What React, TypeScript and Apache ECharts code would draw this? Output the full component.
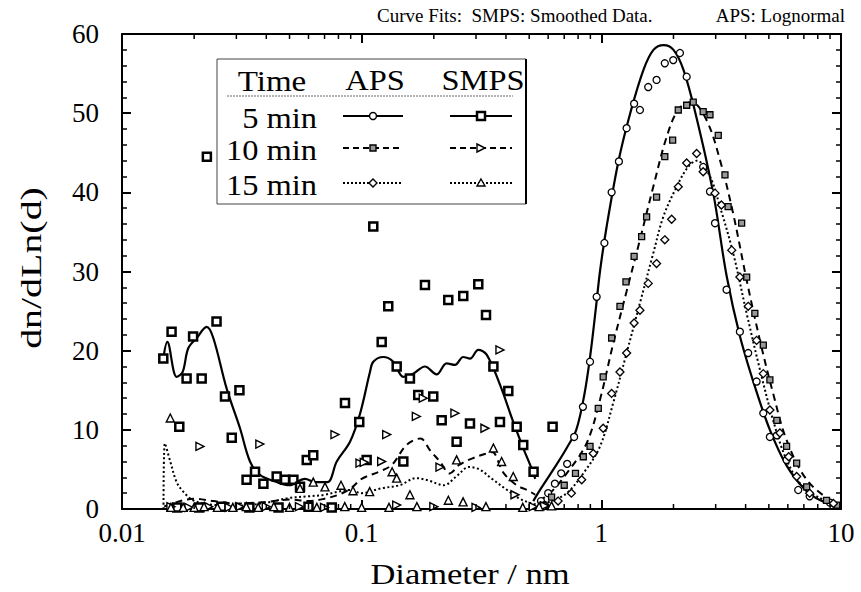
import React, { useEffect, useRef } from "react";
import * as echarts from "echarts";

// ---- axis ticks ----
const X_MAJOR_TICKS = [0.01, 0.1, 1, 10];
const X_MINOR_TICKS = [
  0.02, 0.03, 0.04, 0.05, 0.06, 0.07, 0.08, 0.09,
  0.2, 0.3, 0.4, 0.5, 0.6, 0.7, 0.8, 0.9,
  2, 3, 4, 5, 6, 7, 8, 9,
];
const Y_TICKS = [0, 10, 20, 30, 40, 50, 60];

// ---- APS lognormal fits [diameter, dn/dLn(d)] ----
const aps5Fit = [
  [0.52, 1.0], [0.56, 2.6], [0.65, 5.6], [0.72, 7.8], [0.786, 10.0], [0.85, 14.5],
  [0.9, 19.5], [0.95, 25.5], [0.987, 30.0], [1.05, 35.5], [1.18, 44.0], [1.32, 50.0],
  [1.5, 55.5], [1.65, 58.0], [1.82, 58.6], [2.0, 58.0], [2.2, 55.5], [2.47, 50.0],
  [2.93, 39.9], [3.33, 29.5], [3.79, 21.8], [4.4, 15.2], [5.05, 10.0], [5.9, 5.6],
  [7.0, 2.6], [8.2, 1.1], [10, 0.3],
];
const aps10Fit = [
  [0.55, 1.0], [0.62, 2.2], [0.717, 4.5], [0.868, 8.3], [0.987, 13.8], [1.121, 20.9],
  [1.275, 27.5], [1.449, 34.0], [1.647, 40.7], [1.873, 47.0], [2.1, 50.5], [2.38, 51.4],
  [2.75, 49.1], [3.125, 44.1], [3.55, 37.3], [4.04, 28.9], [4.59, 21.3], [5.21, 14.6],
  [5.93, 8.7], [7.19, 3.7], [9.3, 0.8], [10, 0.5],
];
const aps15Fit = [
  [0.55, 0.5], [0.62, 1.0], [0.717, 2.0], [0.841, 4.5], [0.987, 7.9], [1.121, 13.4],
  [1.275, 19.7], [1.449, 26.0], [1.647, 32.3], [1.813, 36.9], [2.062, 40.7], [2.3, 43.2],
  [2.5, 44.0], [2.84, 42.0], [3.125, 38.2], [3.55, 32.3], [4.04, 24.7], [4.59, 17.6],
  [5.21, 11.2], [5.93, 6.2], [6.96, 2.8], [9.1, 0.7], [10, 0.4],
];

// ---- SMPS smoothed curves ----
const smps5Fit = [
  [0.01487, 19.0], [0.01545, 21.1], [0.0169, 16.7], [0.0179, 17.3], [0.0189, 20.3],
  [0.0205, 21.6], [0.02256, 23.0], [0.02404, 21.6], [0.02734, 15.2], [0.03107, 10.2],
  [0.0342, 6.0], [0.0376, 4.3], [0.0442, 3.4], [0.05, 3.0], [0.058, 3.8], [0.064, 3.4],
  [0.072, 3.4], [0.0787, 6.0], [0.0894, 8.5], [0.0984, 12.0], [0.1083, 17.3],
  [0.1118, 18.6], [0.1231, 19.2], [0.1355, 18.6], [0.1492, 16.7], [0.1642, 17.1],
  [0.1837, 18.0], [0.2055, 17.0], [0.2262, 18.4], [0.245, 18.2], [0.2654, 19.2],
  [0.2831, 19.0], [0.3066, 20.1], [0.3323, 19.5], [0.3776, 15.7], [0.429, 11.0],
  [0.4722, 7.7], [0.5119, 5.1], [0.53, 3.8],
];
const smps10Fit = [
  [0.015, 0.3], [0.017, 0.9], [0.02, 1.3], [0.024, 1.0], [0.03, 0.7], [0.04, 0.9],
  [0.05, 1.2], [0.06, 1.0], [0.07, 1.3], [0.08, 1.8], [0.09, 2.6], [0.1, 3.8],
  [0.12, 4.8], [0.134, 5.6], [0.154, 8.1], [0.176, 8.9], [0.193, 7.4], [0.212, 6.0],
  [0.233, 4.5], [0.256, 5.6], [0.29, 6.4], [0.33, 7.0], [0.35, 7.2], [0.39, 4.6],
  [0.443, 3.0], [0.49, 2.4], [0.53, 1.8],
];
const smps15Fit = [
  [0.0149, 0], [0.0151, 8.3], [0.0159, 6.0], [0.0169, 3.4], [0.018, 2.2], [0.0198, 1.1],
  [0.023, 0.6], [0.03, 0.4], [0.04, 0.8], [0.05, 1.4], [0.06, 1.6], [0.07, 1.8],
  [0.08, 2.2], [0.09, 2.4], [0.1, 2.0], [0.12, 2.6], [0.144, 3.0], [0.169, 3.9],
  [0.19, 3.6], [0.22, 3.0], [0.25, 4.2], [0.28, 5.3], [0.31, 5.0], [0.35, 3.8],
  [0.4, 2.5], [0.45, 1.4], [0.5, 0.8], [0.55, 0.5],
];

// ---- APS measurements ----
const aps5Points = [
  [2.128, 57.6], [1.995, 56.7], [1.84, 56.3], [1.7, 54.2], [1.569, 53.3], [1.449, 50.4],
  [1.37, 51.2], [1.275, 48.1], [1.184, 43.9], [1.104, 40.0], [1.03, 33.6], [0.956, 26.8],
  [0.897, 18.6], [0.838, 12.9], [0.77, 9.1], [0.72, 5.7], [0.68, 4.5], [0.64, 3.2],
  [0.6, 2.0], [0.56, 1.0], [0.58, 0.5], [2.27, 54.6], [2.66, 43.2], [2.84, 40.1],
  [2.98, 36.1], [3.33, 27.7], [3.785, 22.4], [4.1, 19.7], [4.445, 16.1], [4.74, 12.1],
  [5.05, 9.1], [5.4, 9.3], [5.93, 6.2], [6.63, 2.4], [7.4, 1.6], [9.0, 0.8],
];
const aps10Points = [
  [2.094, 50.4], [2.27, 51.0], [2.418, 51.4], [2.66, 50.2], [2.84, 49.8], [3.075, 47.2],
  [1.984, 46.6], [1.84, 44.5], [1.7, 39.4], [1.545, 36.9], [1.473, 34.4], [1.37, 31.9],
  [1.267, 28.7], [1.196, 25.6], [1.104, 21.6], [1.018, 16.7], [0.971, 12.7], [0.897, 7.9],
  [0.841, 6.6], [0.78, 4.5], [0.7, 3.0], [0.62, 1.5], [3.28, 42.2], [3.38, 38.2],
  [3.85, 36.1], [4.04, 29.3], [4.37, 24.7], [4.74, 20.7], [5.05, 16.3], [5.4, 11.2],
  [5.93, 7.9], [6.53, 5.8], [7.19, 2.8], [8.7, 1.1], [9.6, 0.5],
];
const aps15Points = [
  [2.498, 44.9], [2.27, 43.7], [2.094, 40.7], [1.965, 36.6], [1.84, 34.0], [1.7, 31.0],
  [1.569, 28.5], [1.449, 25.1], [1.37, 23.5], [1.275, 19.7], [1.196, 17.3], [1.104, 14.6],
  [1.018, 10.2], [0.925, 7.0], [0.828, 3.7], [0.75, 2.0], [0.66, 1.0], [0.58, 0.4],
  [2.66, 42.6], [2.98, 39.9], [3.17, 38.4], [3.5, 32.7], [3.785, 29.3], [4.1, 25.6],
  [4.445, 21.3], [4.74, 17.1], [5.05, 12.5], [5.56, 9.6], [6.05, 6.6], [6.53, 4.1],
  [7.4, 2.0], [9.3, 0.7],
];

// ---- SMPS measurements ----
const smps5Points = [
  [0.01487, 19.0], [0.0161, 22.4], [0.0186, 16.5], [0.0198, 21.8], [0.0215, 16.5],
  [0.0248, 23.7], [0.0269, 14.2], [0.0309, 15.0], [0.01734, 10.4], [0.0287, 9.0],
  [0.0226, 44.5], [0.0331, 3.7], [0.0359, 4.7], [0.0389, 3.2], [0.0442, 4.1],
  [0.0479, 3.7], [0.0519, 3.7], [0.059, 6.2], [0.0628, 6.8], [0.0553, 2.8],
  [0.0852, 13.4], [0.0977, 11.0], [0.1118, 35.7], [0.1291, 25.6], [0.1212, 21.1],
  [0.1837, 28.3], [0.2298, 26.4], [0.2654, 26.9], [0.3066, 28.4], [0.3302, 24.5],
  [0.14, 18.0], [0.159, 16.5], [0.1722, 14.4], [0.1989, 14.2], [0.2157, 11.2],
  [0.249, 8.5], [0.2831, 10.8], [0.3776, 11.0], [0.4091, 14.9], [0.4434, 10.4],
  [0.4722, 8.1], [0.3545, 18.0], [0.626, 10.4], [0.1492, 6.0], [0.1049, 6.2],
  [0.5215, 4.7], [0.017, 0.2], [0.021, 0.2], [0.026, 0.3], [0.034, 0.2], [0.045, 0.2],
  [0.06, 0.3], [0.075, 0.2],
];
const smps10Points = [
  [0.02115, 7.9], [0.0376, 8.2], [0.0774, 9.4], [0.0984, 5.8], [0.3776, 20.1],
  [0.1272, 9.4], [0.245, 12.1], [0.3269, 10.2], [0.1807, 14.0], [0.1691, 11.7],
  [0.2122, 5.3], [0.1212, 6.0], [0.4362, 1.8], [0.14, 0.5], [0.1025, 5.9],
  [0.016, 0.3], [0.019, 0.2], [0.023, 0.3], [0.028, 0.2], [0.031, 0.3], [0.04, 0.3],
  [0.055, 0.3], [0.07, 0.2], [0.2, 0.3], [0.3, 0.2], [0.52, 0.3], [0.58, 0.4],
];
const smps15Points = [
  [0.0159, 11.5], [0.3545, 7.7], [0.3837, 6.0], [0.249, 6.2], [0.134, 4.7], [0.14, 3.9],
  [0.429, 4.1], [0.108, 2.2], [0.159, 1.8], [0.23, 1.1], [0.265, 0.9], [0.0553, 2.6],
  [0.0628, 3.4], [0.0703, 2.8], [0.082, 3.0], [0.092, 2.3], [0.016, 0.2], [0.018, 0.2],
  [0.02, 0.2], [0.022, 0.3], [0.025, 0.2], [0.029, 0.2], [0.033, 0.3], [0.037, 0.2],
  [0.043, 0.3], [0.05, 0.2], [0.065, 0.2], [0.085, 0.3], [0.1, 0.2], [0.13, 0.2],
  [0.17, 0.3], [0.33, 0.3], [0.47, 0.2], [0.55, 0.3], [0.62, 0.4],
];

const FONT = "'Liberation Serif', 'Times New Roman', serif";
const INK = "#000";
const TRI_RIGHT = "path://M0,0L12,6L0,12Z";

const fmtLog = (v: number) => String(Number(v.toPrecision(6)));

function fitLine(name: string, data: number[][], type: any, width: number) {
  return {
    name,
    type: "line",
    data,
    smooth: 0.35,
    showSymbol: false,
    symbol: "none",
    lineStyle: { color: INK, width, type },
    z: 3,
  };
}

function points(name: string, data: number[][], symbol: string, size: number, fill: string, border: number) {
  return {
    name,
    type: "scatter",
    data,
    symbol,
    symbolSize: size,
    itemStyle: { color: fill, borderColor: INK, borderWidth: border, opacity: 1 },
    z: 4,
  };
}

function txt(text: string, x: number, y: number, size: number, align = "left", rotation = 0, scaleX = 1) {
  return {
    type: "text",
    x,
    y,
    rotation,
    scaleX,
    silent: true,
    style: {
      text,
      fill: INK,
      fontFamily: FONT,
      fontSize: size,
      align,
      verticalAlign: "middle",
      textAlign: align,
      textVerticalAlign: "middle",
    },
  };
}

function legendGraphics() {
  const thin = { stroke: "#444", lineWidth: 1 };
  const els: any[] = [];
  // frame with a heavier right edge
  els.push({ type: "rect", shape: { x: 217, y: 59, width: 309, height: 145 }, style: { fill: "#fff", ...thin } });
  els.push({ type: "line", shape: { x1: 526, y1: 59, x2: 526, y2: 204 }, style: { stroke: INK, lineWidth: 2 } });
  // column headers
  els.push(txt("Time", 272, 81, 29, "center", 0, 1.14));
  els.push(txt("APS", 375, 81, 29, "center", 0, 1.12));
  els.push(txt("SMPS", 483, 81, 29, "center", 0, 1.12));
  els.push({ type: "line", shape: { x1: 227, y1: 96, x2: 513, y2: 96 }, style: { stroke: "#666", lineWidth: 1, lineDash: [2, 1] } });
  const rows = [
    { label: "5 min", y: 116, dash: null as any, w: 2.2 },
    { label: "10 min", y: 148, dash: [6, 4], w: 2 },
    { label: "15 min", y: 183, dash: [2, 2], w: 1.8 },
  ];
  rows.forEach((r, i) => {
    els.push(txt(r.label, 317, r.y + 3, 29, "right", 0, 1.12));
    const ls: any = { stroke: INK, lineWidth: r.w };
    if (r.dash) ls.lineDash = r.dash;
    els.push({ type: "line", shape: { x1: 343, y1: r.y, x2: 403, y2: r.y }, style: ls });
    els.push({ type: "line", shape: { x1: 450, y1: r.y, x2: 512, y2: r.y }, style: ls });
    const mk = { fill: "#fff", stroke: INK, lineWidth: 1.4 };
    if (i === 0) {
      els.push({ type: "circle", shape: { cx: 373, cy: r.y, r: 3.5 }, style: mk });
      els.push({ type: "rect", shape: { x: 477, y: r.y - 4, width: 8, height: 8 }, style: { ...mk, lineWidth: 2.5 } });
    } else if (i === 1) {
      els.push({ type: "rect", shape: { x: 370, y: r.y - 3, width: 6, height: 6 }, style: { ...mk, fill: "#999" } });
      els.push({ type: "polygon", shape: { points: [[477, r.y - 4], [485, r.y], [477, r.y + 4]] }, style: mk });
    } else {
      els.push({ type: "polygon", shape: { points: [[373, r.y - 4], [377, r.y], [373, r.y + 4], [369, r.y]] }, style: mk });
      els.push({ type: "polygon", shape: { points: [[481, r.y - 4], [485, r.y + 3], [477, r.y + 3]] }, style: mk });
    }
  });
  return els;
}

export default function App() {
  const ref = useRef<HTMLDivElement>(null);

  useEffect(() => {
    if (!ref.current) return;
    const chart = echarts.init(ref.current, null, { renderer: "svg" });

    const axisLine = { show: true, onZero: false, lineStyle: { color: INK, width: 2 } };
    const tick = { show: true, inside: true, length: 9, lineStyle: { color: INK, width: 2 } };
    const minor = { show: true, splitNumber: 5, length: 5, lineStyle: { color: INK, width: 1.5 } };
    const label = { color: INK, fontFamily: FONT, fontSize: 27 };

    const xCommon = {
      type: "log",
      logBase: 10,
      min: X_MAJOR_TICKS[0],
      max: X_MAJOR_TICKS[X_MAJOR_TICKS.length - 1],
      axisLine,
      axisTick: tick,
      splitLine: { show: false },
    };
    const yCommon = {
      type: "value",
      min: Y_TICKS[0],
      max: Y_TICKS[Y_TICKS.length - 1],
      interval: 10,
      axisLine,
      axisTick: tick,
      minorTick: minor,
      splitLine: { show: false },
      minorSplitLine: { show: false },
    };

    chart.setOption({
      animation: false,
      backgroundColor: "#fff",
      grid: { left: 122, right: 20, top: 34, bottom: 83, containLabel: false },
      xAxis: [
        { ...xCommon, position: "bottom", axisLabel: { ...label, margin: 10, formatter: fmtLog } },
        { ...xCommon, position: "top", axisLabel: { show: false } },
      ],
      yAxis: [
        { ...yCommon, position: "left", axisLabel: { ...label, margin: 23 } },
        { ...yCommon, position: "right", axisLabel: { show: false } },
      ],
      series: [
        fitLine("APS 5 min", aps5Fit, "solid", 2.2),
        fitLine("APS 10 min", aps10Fit, [7, 5], 2),
        fitLine("APS 15 min", aps15Fit, [2, 2.5], 2),
        fitLine("SMPS 5 min", smps5Fit, "solid", 2.2),
        fitLine("SMPS 10 min", smps10Fit, [7, 5], 2),
        fitLine("SMPS 15 min", smps15Fit, [2, 2.5], 2),
        points("APS 5 min data", aps5Points, "circle", 7, "#fff", 1.3),
        points("APS 10 min data", aps10Points, "rect", 6, "#999", 1.3),
        points("APS 15 min data", aps15Points, "diamond", 8, "#fff", 1.3),
        points("SMPS 5 min data", smps5Points, "rect", 8, "#fff", 2.5),
        points("SMPS 10 min data", smps10Points, TRI_RIGHT, 8, "#fff", 1.4),
        points("SMPS 15 min data", smps15Points, "triangle", 8, "#fff", 1.4),
        {
          name: "minor ticks",
          type: "custom",
          silent: true,
          clip: false,
          z: 6,
          data: X_MINOR_TICKS.map((d) => [d, Y_TICKS[0]]),
          renderItem: (_p: any, api: any) => {
            const d = api.value(0);
            const b = api.coord([d, Y_TICKS[0]]);
            const t = api.coord([d, Y_TICKS[Y_TICKS.length - 1]]);
            const st = { stroke: INK, lineWidth: 1.5 };
            return {
              type: "group",
              children: [
                { type: "line", shape: { x1: b[0], y1: b[1], x2: b[0], y2: b[1] - 5 }, style: st },
                { type: "line", shape: { x1: t[0], y1: t[1], x2: t[0], y2: t[1] + 5 }, style: st },
              ],
            };
          },
        },
      ],
      graphic: [
        txt("Curve Fits:  SMPS: Smoothed Data.", 377, 15, 19, "left"),
        txt("APS: Lognormal", 845, 15, 19, "right"),
        txt("Diameter / nm", 470, 574, 30, "center", 0, 1.15),
        txt("dn/dLn(d)", 31, 268, 30, "center", Math.PI / 2, 1.33),
        ...legendGraphics(),
      ],
    });

    return () => chart.dispose();
  }, []);

  return (
    <div
      ref={ref}
      style={{ position: "fixed", left: 0, top: 0, width: 861, height: 592, background: "#fff" }}
    />
  );
}
